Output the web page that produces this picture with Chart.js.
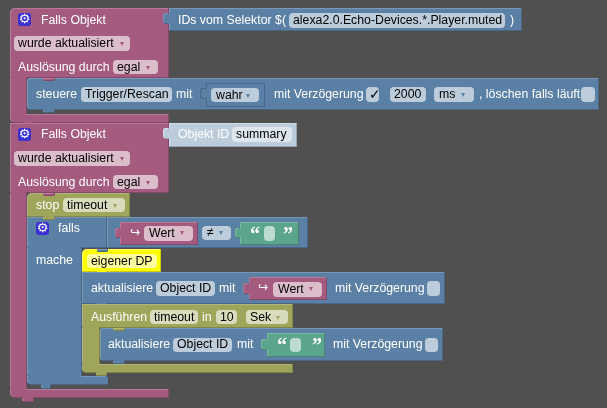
<!DOCTYPE html>
<html>
<head>
<meta charset="utf-8">
<title>Blockly</title>
<script src="https://cdn.jsdelivr.net/npm/chart.js@4"></script>
<style>
  html, body { margin: 0; padding: 0; background: #505050; overflow: hidden; }
  canvas { display: block; }
</style>
</head>
<body>
<canvas id="blocks" width="607" height="408"></canvas>
<script>
// block pieces in paint order, pieces of one group share a bevel
const pieceGroup  = [0,0,0,0, 1,1, 2,2, 3,3, 4, 5,5,5,5, 6,6, 7,7,7,7,7, 8,8, 9, 10,10, 11,11, 12,12, 13, 14,14, 15,15, 16,16,16,16, 17,17, 18, 19,19];
const pieceTone   = ['pink','pink','pink','pink', 'blue','blue', 'blue','blue', 'inset','inset', 'pink',
  'pink','pink','pink','pink', 'pale','pale', 'blue','blue','blue','blue','blue', 'olive','olive', 'pink',
  'pink','pink', 'green','green', 'yellow','yellow', 'blue', 'blue','blue', 'pink','pink',
  'olive','olive','olive','olive', 'blue','blue', 'olive', 'green','green'];
const pieceLeft   = [10,10,10,22, 169,163, 27,43, 206,200, 43,
  10,10,10,22, 169,163, 27,107,27,27,41, 27,43, 43,
  120,115, 240,235, 82,96, 97, 82,96, 249,243,
  82,82,82,96, 100,113, 113, 267,261];
const pieceRight  = [169,27,169,34, 522,169, 599,55, 265,206, 55,
  169,27,169,34, 297,169, 107,308,82,107,51, 130,55, 55,
  198,120, 299,240, 161,107, 108, 445,107, 327,249,
  293,100,293,107, 443,125, 125, 325,267];
const pieceTop    = [8,78,114,123, 8,13, 78,110, 83,88, 78,
  123,193,389,398, 123,128, 217,217,248,376,385, 193,217, 193,
  222,228, 222,228, 249,272, 249, 272,304, 277,283,
  304,328,364,373, 328,361, 328, 333,339];
const pieceBottom = [78,114,123,126, 31,24, 110,113, 107,99, 81,
  193,389,398,402, 147,139, 248,248,376,385,389, 217,220, 196,
  245,238, 245,238, 272,275, 252, 304,307, 300,294,
  328,364,373,376, 361,364, 331, 357,350];
const pieceRound  = ['tl','','bl','b', '','l', 'l','b', '','l', 'b',
  '','','bl','b', '','l', '','','','bl','b', 'tl','b', 'b',
  '','l', '','l', 'tl','b', 'b', '','b', '','l',
  '','','bl','b', 'l','b', 'b', '','l'];

const chipLeft   = [14,113,289,81,211,366,390,434,581,14,113,232,63,144,202,264,87,156,273,427,150,216,246,173,290,425];
const chipRight  = [130,158,505,172,259,379,426,474,595,130,158,292,125,193,231,275,157,215,322,440,198,237,288,232,301,438];
const chipTop    = [36,60,13,87,88,87,87,87,87,151,175,127,198,226,226,226,254,281,282,281,310,310,310,338,338,338];
const chipBottom = [51,74,28,102,102,102,102,102,102,166,189,142,212,241,240,241,268,296,297,296,324,324,324,352,352,352];
const chipTone   = ['pink','pink','blue','blue','blue','blue','blue','blue','blue','pink','pink','pale','olive','pink','blue','green','yellow','blue','pink','blue','olive','olive','olive','blue','green','blue'];

const iconLeft   = [18,18,36];
const iconRight  = [31,31,49];
const iconTop    = [13,128,222];
const iconBottom = [26,141,235];

const textLabels = ['Falls Objekt','wurde aktualisiert','▾','Auslösung durch','egal','▾','IDs vom Selektor $(','alexa2.0.Echo-Devices.*.Player.muted',')',
  'steuere','Trigger/Rescan','mit','wahr','▾','mit Verzögerung','✓','2000','ms','▾',', löschen falls läuft',
  'Falls Objekt','wurde aktualisiert','▾','Auslösung durch','egal','▾','Objekt ID','summary',
  'stop','timeout','▾','falls','↪','Wert','▾','≠','▾','“','”','mache','eigener DP',
  'aktualisiere','Object ID','mit','↪','Wert','▾','mit Verzögerung',
  'Ausführen','timeout','in','10','Sek','▾',
  'aktualisiere','Object ID','mit','“','”','mit Verzögerung',
  '⚙','⚙','⚙'];
const textX = [41,18,120,18,117,146,178,293,510,
  36,85,176,216,246,274,369,394,439,461,479,
  41,18,120,18,117,146,178,236,
  36,67,113,58,130,149,180,207,219,250,283,36,91,
  91,160,219,258,278,309,335,
  91,154,202,220,250,276,
  108,177,237,277,312,333,
  24.5,24.5,42.5];
const textY = [20.5,44,44,67.5,67.5,67.5,20.5,20.5,20.5,
  94.5,94.5,94.5,95.5,95.5,94.5,95,94.5,94.5,94.5,94.5,
  134.5,159,159,182.5,182.5,182.5,134.5,134.5,
  205.5,205.5,205.5,228.5,233,233.5,233,233,233,233,233,260.5,261.5,
  288.5,288.5,288.5,288,289.5,289,288.5,
  317.5,317.5,317.5,317.5,317.5,317.5,
  344.5,344.5,344.5,344,344,344.5,
  19.5,134.5,228.5];
const textStyle = ['w','k','ap','w','k','ap','w','k','w',
  'w','k','w','k','ab','w','c','k','k','ab','w',
  'w','k','ap','w','k','ap','w','k',
  'w','k','ao','w','g','k','ap','k','ab','q','q','w','k',
  'w','k','w','g','k','ap','w',
  'w','k','w','k','k','ao',
  'w','k','w','q','q','w',
  'i','i','i'];

// styles kept apart from the values
const tones = {
  pink:   { main: '#a55b80', light: '#b67a98', dark: '#84496a' },
  blue:   { main: '#5b80a5', light: '#7a98b6', dark: '#496684' },
  inset:  { main: '#5b80a5', light: '#496684', dark: '#496684' },
  olive:  { main: '#9fa55b', light: '#b0b57a', dark: '#7f8449' },
  green:  { main: '#5ba58c', light: '#7ab6a2', dark: '#498470' },
  pale:   { main: '#bdccdb', light: '#d0dce6', dark: '#97a3af' },
  yellow: { main: '#ffff00', light: '#ffff66', dark: '#cccc00' }
};
const chipColors = { pink: '#dbbdcc', blue: '#bdccdb', olive: '#d9dbbd', green: '#bddbd1', pale: '#dee6ed', yellow: '#ffffa0' };
const sans = '12.3px "Liberation Sans", Arial, sans-serif';
const textStyles = {
  w:  { font: sans, color: '#ffffff' },
  k:  { font: sans, color: '#000000' },
  ap: { font: '8px "DejaVu Sans"', color: '#a55b80' },
  ab: { font: '8px "DejaVu Sans"', color: '#5b80a5' },
  ao: { font: '8px "DejaVu Sans"', color: '#9fa55b' },
  c:  { font: '14px "DejaVu Sans"', color: '#000000' },
  g:  { font: '12px "DejaVu Sans"', color: '#ffffff' },
  q:  { font: 'bold 20px "Liberation Serif"', color: '#ffffff', dy: 3 },
  i:  { font: '13px "DejaVu Sans"', color: '#ffffff', center: true }
};

function radiusFor(round) {
  const r = 5;
  if (round === 'tl') return { topLeft: r, topRight: 0, bottomLeft: 0, bottomRight: 0 };
  if (round === 'bl') return { topLeft: 0, topRight: 0, bottomLeft: r, bottomRight: 0 };
  if (round === 'l') return { topLeft: 3, topRight: 0, bottomLeft: 3, bottomRight: 0 };
  if (round === 'b') return { topLeft: 0, topRight: 0, bottomLeft: 3, bottomRight: 3 };
  return 0;
}

function barSet(l, r, t, b, color, radius) {
  return {
    data: [{ x: [l, r], y: (t + b) / 2 }],
    barThickness: b - t,
    backgroundColor: color,
    borderRadius: radius,
    borderSkipped: false,
    borderWidth: 0,
    inflateAmount: 0,
    grouped: false
  };
}

// face of a piece, pushed over the edge where it joins a bigger piece of its group
function faceOf(i, idx) {
  const face = { l: pieceLeft[i] + 1, r: pieceRight[i] - 1, t: pieceTop[i] + 1, b: pieceBottom[i] - 1 };
  const w = pieceRight[i] - pieceLeft[i];
  const h = pieceBottom[i] - pieceTop[i];
  idx.forEach(j => {
    if (j === i) return;
    const wider = pieceRight[j] - pieceLeft[j] > w;
    const taller = pieceBottom[j] - pieceTop[j] > h;
    if (wider && pieceBottom[j] === pieceTop[i]) face.t = pieceTop[i] - 1;
    if (wider && pieceTop[j] === pieceBottom[i]) face.b = pieceBottom[i] + 1;
    if (taller && pieceLeft[j] === pieceRight[i]) face.r = pieceRight[i] + 1;
  });
  return face;
}

const datasets = [];
const groups = [...new Set(pieceGroup)];
groups.forEach(g => {
  const idx = [];
  pieceGroup.forEach((pg, i) => { if (pg === g) idx.push(i); });
  // dark edge, light edge, then the face on top
  idx.forEach(i => datasets.push(barSet(pieceLeft[i], pieceRight[i], pieceTop[i], pieceBottom[i], tones[pieceTone[i]].dark, radiusFor(pieceRound[i]))));
  idx.forEach(i => datasets.push(barSet(pieceLeft[i], pieceRight[i] - 1, pieceTop[i], pieceBottom[i] - 1, tones[pieceTone[i]].light, radiusFor(pieceRound[i]))));
  idx.forEach(i => {
    const f = faceOf(i, idx);
    datasets.push(barSet(f.l, f.r, f.t, f.b, tones[pieceTone[i]].main, radiusFor(pieceRound[i])));
  });
});
chipLeft.forEach((l, i) => {
  datasets.push(barSet(l, chipRight[i], chipTop[i], chipBottom[i], chipColors[chipTone[i]], 4));
});
iconLeft.forEach((l, i) => {
  datasets.push(barSet(l, iconRight[i], iconTop[i], iconBottom[i], '#3a2fd0', 3));
});

// chart.js paints dataset 0 last, so flip to keep the list in paint order
datasets.reverse();

const blockText = {
  id: 'blockText',
  afterDatasetsDraw(chart) {
    const { ctx, scales } = chart;
    ctx.save();
    ctx.textBaseline = 'middle';
    textLabels.forEach((label, i) => {
      const style = textStyles[textStyle[i]];
      ctx.font = style.font;
      ctx.fillStyle = style.color;
      ctx.textAlign = style.center ? 'center' : 'left';
      ctx.fillText(label, scales.x.getPixelForValue(textX[i]), scales.y.getPixelForValue(textY[i] + (style.dy || 0)));
    });
    ctx.restore();
  }
};

new Chart(document.getElementById('blocks'), {
  type: 'bar',
  data: { datasets: datasets },
  plugins: [blockText],
  options: {
    indexAxis: 'y',
    responsive: false,
    animation: false,
    layout: { padding: 0 },
    plugins: { legend: { display: false }, tooltip: { enabled: false } },
    scales: {
      x: { type: 'linear', min: 0, max: 607, display: false },
      y: { type: 'linear', min: 0, max: 408, reverse: true, offset: false, display: false }
    }
  }
});
</script>
</body>
</html>
